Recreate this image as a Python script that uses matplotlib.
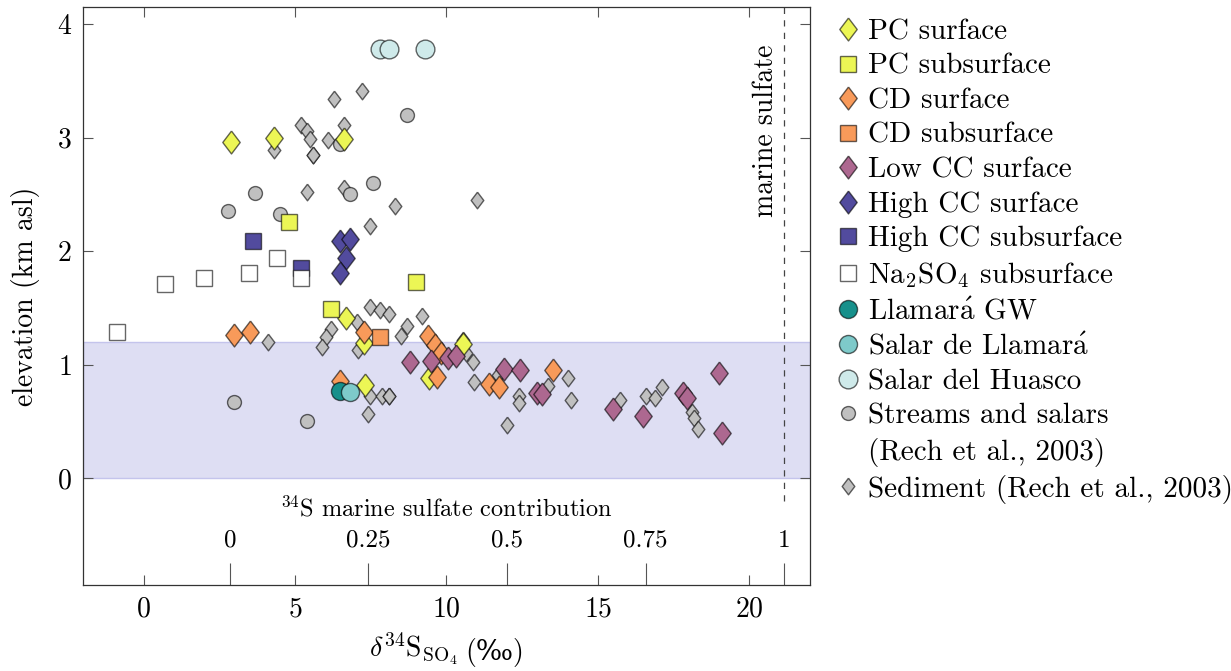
import matplotlib
matplotlib.use('Agg')
import matplotlib.pyplot as plt
from matplotlib.lines import Line2D

plt.rcParams['font.family'] = ['cmr10', 'DejaVu Serif']
plt.rcParams['mathtext.fontset'] = 'cm'
plt.rcParams['axes.formatter.use_mathtext'] = True
plt.rcParams['axes.unicode_minus'] = False

# end-member sulfate isotope values used for the mixing scale (permil)
d34s_local = 2.85
d34s_marine = 21.15

frac_ticks = [0, 0.25, 0.5, 0.75, 1]
frac_labels = ['0', '0.25', '0.5', '0.75', '1']

pc_surf_x = [2.89, 4.30, 6.60, 6.69, 7.27, 7.30, 10.53, 9.42]
pc_surf_y = [2.96, 3.00, 2.99, 1.41, 1.19, 0.82, 1.18, 0.88]

pc_sub_x = [4.79, 6.20, 9.00]
pc_sub_y = [2.26, 1.49, 1.73]

cd_surf_x = [3.00, 3.50, 7.27, 6.50, 9.39, 9.61, 9.81, 9.70, 11.40, 11.74, 13.50]
cd_surf_y = [1.26, 1.29, 1.29, 0.86, 1.25, 1.17, 1.10, 0.89, 0.83, 0.80, 0.95]

cd_sub_x = [7.79]
cd_sub_y = [1.24]

low_cc_x = [8.81, 9.50, 10.05, 10.30, 11.90, 12.42, 13.00, 13.14, 15.50, 16.50,
            17.80, 17.95, 19.00, 19.11]
low_cc_y = [1.02, 1.03, 1.06, 1.08, 0.96, 0.95, 0.75, 0.74, 0.61, 0.55,
            0.75, 0.71, 0.93, 0.40]

high_cc_surf_x = [6.50, 6.80, 6.69, 6.50]
high_cc_surf_y = [2.09, 2.11, 1.94, 1.81]

high_cc_sub_x = [3.60, 5.20]
high_cc_sub_y = [2.09, 1.85]

na2so4_x = [-0.89, 0.71, 2.01, 3.49, 4.40, 5.20]
na2so4_y = [1.29, 1.71, 1.76, 1.81, 1.94, 1.76]

gw_x = [6.50]
gw_y = [0.77]

llamara_x = [6.80]
llamara_y = [0.76]

huasco_x = [7.79, 8.10, 9.30]
huasco_y = [3.78, 3.78, 3.78]

streams_x = [3.69, 2.80, 4.50, 6.47, 8.69, 7.59, 6.80, 3.00, 5.40]
streams_y = [2.51, 2.35, 2.33, 2.94, 3.20, 2.60, 2.50, 0.67, 0.50]

sediment_x = [4.30, 5.20, 5.40, 5.51, 5.60, 5.60, 6.08, 6.30, 7.20, 6.60,
              5.40, 6.60, 8.30, 11.01, 7.49, 4.10, 6.20, 6.01, 5.90, 7.49,
              7.79, 8.10, 7.04, 7.07, 9.20, 8.71, 8.51, 10.53, 10.63, 10.88,
              10.90, 11.70, 12.39, 12.39, 12.01, 13.34, 14.00, 14.10, 15.73, 16.58,
              16.88, 17.10, 18.10, 18.17, 18.31, 7.49, 7.88, 8.10, 8.10, 7.40]
sediment_y = [2.89, 3.11, 3.06, 2.99, 2.85, 2.85, 2.98, 3.34, 3.41, 3.11,
              2.52, 2.56, 2.40, 2.45, 2.22, 1.20, 1.31, 1.24, 1.16, 1.51,
              1.48, 1.45, 1.38, 1.13, 1.43, 1.34, 1.25, 1.22, 1.10, 1.02,
              0.85, 0.91, 0.72, 0.66, 0.47, 0.81, 0.88, 0.69, 0.69, 0.72,
              0.71, 0.80, 0.58, 0.53, 0.43, 0.72, 0.72, 0.72, 0.72, 0.57]

# elevation band shaded behind the samples
band_low, band_high = 0.0, 1.2

yellow = '#ecf655'
orange = '#f89a5a'
purple = '#ad6890'
indigo = '#524b9e'
grey = '#c0c0c0'

diamond = [(0, 1), (0.76, 0), (0, -1), (-0.76, 0), (0, 1)]
edge = (0.0, 0.0, 0.0, 0.6)


def delta_to_frac(d):
    return (d - d34s_local) / (d34s_marine - d34s_local)


def frac_to_delta(f):
    return d34s_local + f * (d34s_marine - d34s_local)


series = [
    (pc_surf_x, pc_surf_y, 'PC surface', diamond, yellow, 16.5, 4),
    (pc_sub_x, pc_sub_y, 'PC subsurface', 's', yellow, 11.5, 4),
    (cd_surf_x, cd_surf_y, 'CD surface', diamond, orange, 16.5, 5),
    (cd_sub_x, cd_sub_y, 'CD subsurface', 's', orange, 11.5, 5),
    (low_cc_x, low_cc_y, 'Low CC surface', diamond, purple, 16.5, 5),
    (high_cc_surf_x, high_cc_surf_y, 'High CC surface', diamond, indigo, 16.5, 5),
    (high_cc_sub_x, high_cc_sub_y, 'High CC subsurface', 's', indigo, 11.5, 5),
    (na2so4_x, na2so4_y, r'Na$_2$SO$_4$ subsurface', 's', 'white', 11.5, 6),
    (gw_x, gw_y, r'Llamar$\acute{\mathrm{a}}$ GW', 'o', '#17908b', 13.0, 6),
    (llamara_x, llamara_y, r'Salar de Llamar$\acute{\mathrm{a}}$', 'o', '#7ecaca', 13.0, 6),
    (huasco_x, huasco_y, 'Salar del Huasco', 'o', '#cfeaea', 13.5, 6),
    (streams_x, streams_y, 'Streams and salars', 'o', grey, 10.0, 3),
    (sediment_x, sediment_y, 'Sediment (Rech et al., 2003)', diamond, grey, 12.0, 2),
]

fig = plt.figure(figsize=(12.31, 6.71), dpi=100)
ax = fig.add_axes([83 / 1231, 86 / 671, 727 / 1231, 578 / 671])

ax.axhspan(band_low, band_high, facecolor='#dedef3', edgecolor='#c4c4ec',
           linewidth=1.0, zorder=1)

for xs, ys, label, marker, color, size, z in series:
    ax.plot(xs, ys, linestyle='none', marker=marker, markersize=size,
            markerfacecolor=color, markeredgecolor=edge, markeredgewidth=1.0,
            label=label, zorder=z)

ax.vlines(d34s_marine, -0.2, 4.15, colors='#444444', linestyles=(0, (5, 5)),
          linewidth=0.9, zorder=1.5)
ax.text(d34s_marine - 0.6, 3.82, 'marine sulfate', rotation=90, ha='center',
        va='top', fontsize=20)

ax.set_xlim(-2, 22)
ax.set_ylim(-0.94, 4.15)
ax.set_xticks([0, 5, 10, 15, 20])
ax.set_yticks([0, 1, 2, 3, 4])
ax.tick_params(direction='in', top=True, right=True, length=7, width=0.8,
               color='#555555', labelsize=20, pad=8)
for sp in ax.spines.values():
    sp.set_linewidth(0.9)
    sp.set_color('#333333')

xlab = ax.set_xlabel(r'$\delta^{34}\mathrm{S}_{\mathrm{SO}_4}$', fontsize=20,
                     labelpad=6, x=0.4546)
ax.annotate('(‰)', xy=(1, 0.42), xycoords=xlab, xytext=(5, 0),
            textcoords='offset points', ha='left', va='center', fontsize=20,
            annotation_clip=False)
ax.set_ylabel('elevation (km asl)', fontsize=20, labelpad=12)

sec = ax.secondary_xaxis('bottom', functions=(delta_to_frac, frac_to_delta))
sec.set_xticks(frac_ticks)
sec.set_xticklabels(frac_labels)
sec.tick_params(direction='in', length=16, width=0.8, color='#555555',
                labelsize=18, pad=-40)
sec.spines['bottom'].set_visible(False)
sec.set_xlabel(r'$^{34}$S marine sulfate contribution', fontsize=17.5, labelpad=-64)

handles, labels = ax.get_legend_handles_labels()
# second line of the streams entry, without its own marker
handles.insert(12, Line2D([], [], linestyle='none', marker=None))
labels.insert(12, '(Rech et al., 2003)')
ax.legend(handles, labels, loc='upper left', bbox_to_anchor=(1.034, 0.979),
          frameon=False, fontsize=21, handlelength=0.9, handletextpad=0.25,
          labelspacing=0.275, borderaxespad=0.0, borderpad=0.0)

fig.savefig('out.png', dpi=100)
